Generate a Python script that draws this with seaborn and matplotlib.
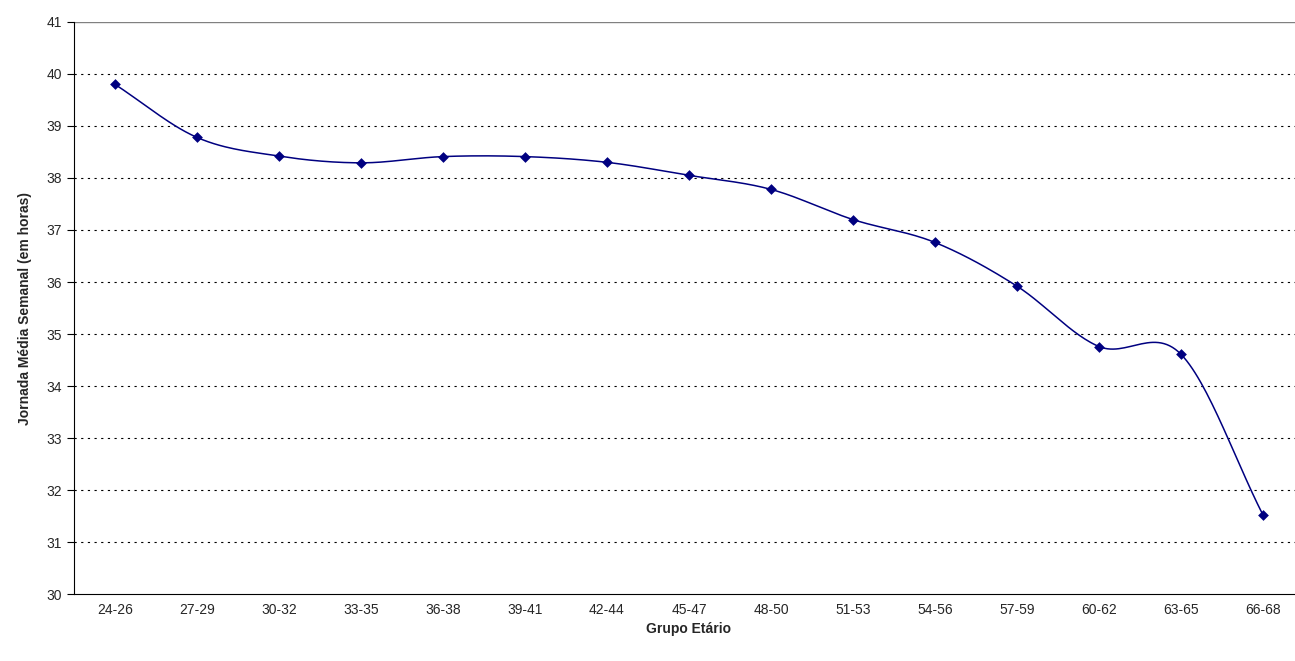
import matplotlib
matplotlib.use("Agg")
import matplotlib.pyplot as plt
import numpy as np
import pandas as pd
import seaborn as sns

groups = ["24-26", "27-29", "30-32", "33-35", "36-38", "39-41", "42-44", "45-47",
          "48-50", "51-53", "54-56", "57-59", "60-62", "63-65", "66-68"]
hours = [39.80, 38.78, 38.42, 38.29, 38.41, 38.41, 38.30, 38.05,
         37.78, 37.20, 36.76, 35.92, 34.76, 34.61, 31.52]

sns.set_style("white")
plt.rcParams["font.family"] = ["Liberation Sans", "DejaVu Sans"]

df = pd.DataFrame({"grupo": groups, "horas": hours, "pos": np.arange(len(groups))})


def catmull_rom(x, y, n=30):
    # smoothed line like the spreadsheet "smoothed line" option
    px = np.concatenate([[2 * x[0] - x[1]], x, [2 * x[-1] - x[-2]]])
    py = np.concatenate([[2 * y[0] - y[1]], y, [2 * y[-1] - y[-2]]])
    xs, ys = [], []
    t = np.linspace(0, 1, n)
    for i in range(1, len(px) - 2):
        for p, out in ((px, xs), (py, ys)):
            p0, p1, p2, p3 = p[i - 1], p[i], p[i + 1], p[i + 2]
            out.extend(0.5 * (2 * p1 + (-p0 + p2) * t
                              + (2 * p0 - 5 * p1 + 4 * p2 - p3) * t ** 2
                              + (-p0 + 3 * p1 - 3 * p2 + p3) * t ** 3))
    return np.array(xs), np.array(ys)


fig, ax = plt.subplots(figsize=(12.95, 6.61), dpi=100)
fig.subplots_adjust(left=0.057, right=1.007, top=0.967, bottom=0.101)

sx, sy = catmull_rom(df["pos"].to_numpy(float), df["horas"].to_numpy(float))
ax.plot(sx, sy, color="#000080", lw=1.1, zorder=3)
sns.scatterplot(data=df, x="pos", y="horas", marker="D", s=30, color="#000080",
                edgecolor="#000080", linewidth=0, ax=ax, zorder=4, legend=False)

ax.set_xlim(-0.5, len(groups) - 0.5)
ax.set_ylim(30, 41)
ax.set_yticks(range(30, 42))
ax.set_xticks(df["pos"])
ax.set_xticklabels(groups)
ax.set_xticks(np.arange(-0.5, len(groups)), minor=True)
ax.tick_params(axis="x", which="major", length=0, labelsize=10, pad=6)
ax.tick_params(axis="x", which="minor", length=5, color="black", width=0.8)
ax.tick_params(axis="y", length=5, color="black", width=0.8, labelsize=10, left=True)

for v in range(31, 41):
    ax.axhline(v, color="black", lw=0.8, ls=(0, (2, 4)), zorder=1)
ax.axhline(41, color="#808080", lw=1, zorder=1)

for s in ["top", "right"]:
    ax.spines[s].set_visible(False)
for s in ["left", "bottom"]:
    ax.spines[s].set_color("black")
    ax.spines[s].set_linewidth(0.8)

ax.set_xlabel("Grupo Etário", fontweight="bold", fontsize=10)
ax.set_ylabel("Jornada Média Semanal (em horas)", fontweight="bold", fontsize=10, labelpad=10)

fig.savefig("out.png", dpi=100)
